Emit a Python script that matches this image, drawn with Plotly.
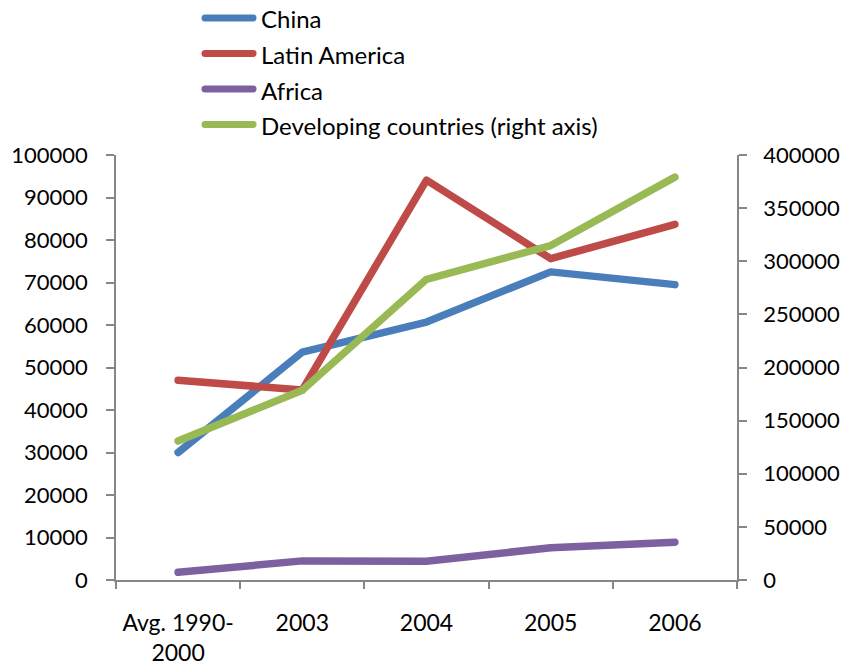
import plotly.graph_objects as go

categories = ["Avg. 1990-<br>2000", "2003", "2004", "2005", "2006"]
china = [30000, 53600, 60700, 72500, 69500]
latin_america = [47000, 44700, 94100, 75600, 83700]
africa = [1800, 4500, 4400, 7600, 8900]
developing = [130800, 178600, 283000, 314800, 379200]

left_ticks = [0, 10000, 20000, 30000, 40000, 50000, 60000, 70000, 80000, 90000, 100000]
right_ticks = [0, 50000, 100000, 150000, 200000, 250000, 300000, 350000, 400000]

FONT = "Lato"
W, H = 848, 666
L, R, T, B = 116, 111, 155, 86
PW, PH = W - L - R, H - T - B

def px_x(px):
    return (px - L) / PW

def px_y(py):
    return (H - B - py) / PH

fig = go.Figure()
series = [
    ("China", china, "#4A7EBB", "y"),
    ("Latin America", latin_america, "#BE4B48", "y"),
    ("Africa", africa, "#7D60A0", "y"),
    ("Developing countries (right axis)", developing, "#98B954", "y2"),
]
for name, vals, col, ax in series:
    fig.add_trace(go.Scatter(
        x=categories, y=vals, name=name, mode="lines", yaxis=ax,
        line=dict(color=col, width=7.5), showlegend=False,
    ))

# custom legend (line sample + label)
legend_rows = [18, 53.5, 89, 124.5]
shapes, annotations = [], []
for (name, _, col, _), ry in zip(series, legend_rows):
    shapes.append(dict(type="line", xref="paper", yref="paper",
                       x0=px_x(205), x1=px_x(253), y0=px_y(ry), y1=px_y(ry),
                       line=dict(color=col, width=7)))
    annotations.append(dict(xref="paper", yref="paper", x=px_x(259), y=px_y(ry + 1),
                            text=name, showarrow=False, xanchor="left", yanchor="middle",
                            font=dict(family=FONT, size=24, color="black")))

axis_col = "#868686"
fig.update_layout(
    width=W, height=H,
    margin=dict(l=L, r=R, t=T, b=B, autoexpand=False),
    paper_bgcolor="white", plot_bgcolor="white",
    font=dict(family=FONT, size=22, color="black"),
    showlegend=False,
    shapes=shapes, annotations=annotations,
    xaxis=dict(type="category", range=[-0.5, 4.5], tickson="boundaries",
               showline=True, linecolor=axis_col, linewidth=1.5,
               ticks="outside", ticklen=7, tickcolor=axis_col, tickwidth=1.5,
               showgrid=False, zeroline=False, ticklabelstandoff=22,
               automargin=False, tickfont=dict(size=23)),
    yaxis=dict(range=[0, 100000], tickvals=left_ticks,
               ticktext=[str(v) for v in left_ticks],
               showline=True, linecolor=axis_col, linewidth=1.5,
               ticks="outside", ticklen=8, tickcolor=axis_col, tickwidth=1.5,
               showgrid=False, zeroline=False, ticklabelstandoff=14,
               automargin=False, tickfont=dict(size=22)),
    yaxis2=dict(range=[0, 400000], tickvals=right_ticks,
                ticktext=[str(v) for v in right_ticks],
                overlaying="y", side="right",
                showline=True, linecolor=axis_col, linewidth=1.5,
                ticks="outside", ticklen=8, tickcolor=axis_col, tickwidth=1.5,
                showgrid=False, zeroline=False, ticklabelstandoff=12,
                automargin=False, tickfont=dict(size=22)),
)

post = (
    "document.body.style.margin='0';document.body.style.padding='0';"
    "document.body.style.overflow='hidden';"
    "document.querySelectorAll('.js-line, .shapelayer path').forEach(function(p){"
    "p.style.strokeLinecap='round';p.style.strokeLinejoin='round';});"
)
fig.write_html("out.html", config={"displayModeBar": False}, post_script=post)
